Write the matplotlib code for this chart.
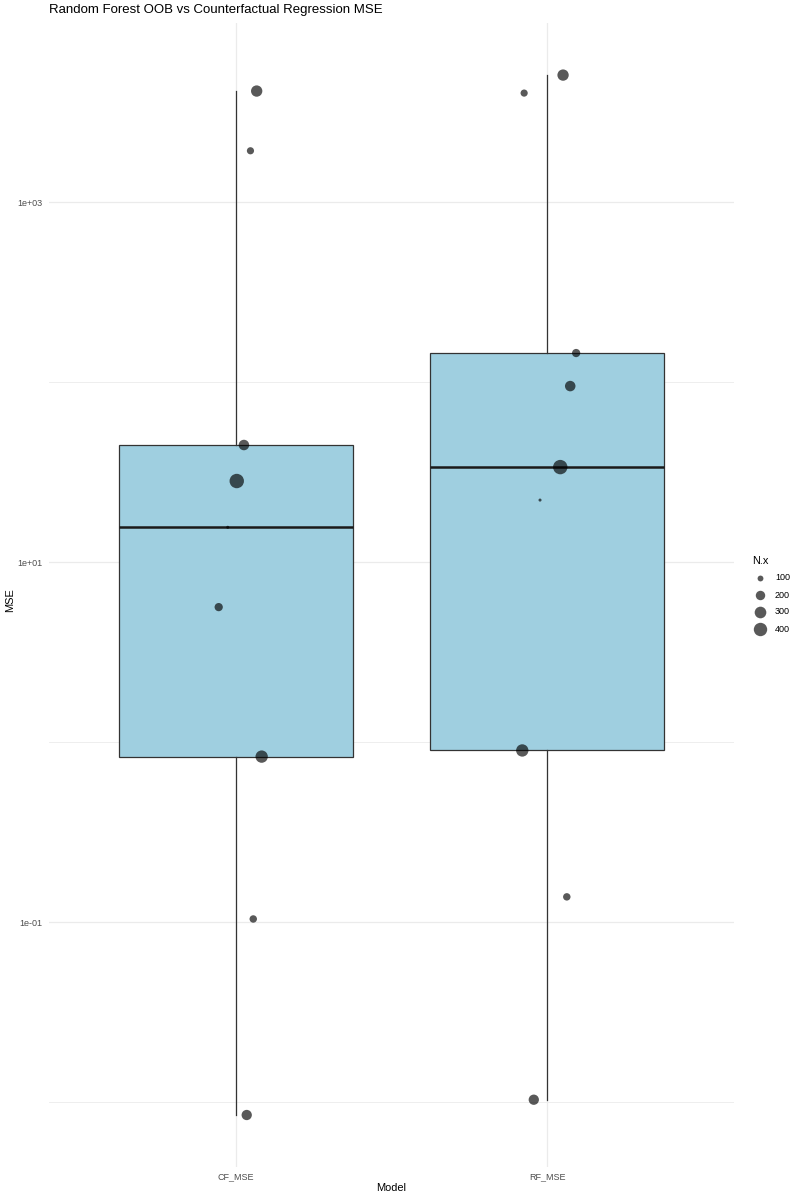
import numpy as np
import matplotlib
matplotlib.use("Agg")
import matplotlib.pyplot as plt
from matplotlib.ticker import FixedLocator, NullFormatter
from matplotlib.lines import Line2D

plt.rcParams["font.family"] = ["Liberation Sans", "DejaVu Sans"]

# ---- data ----
MODELS = ["CF_MSE", "RF_MSE"]
N_X    = [284, 128, 245, 467, 76, 158, 338, 135, 235]
CF_MSE = [4139, 1928, 44.7, 28.2, 15.6, 5.62, 0.830, 0.104, 0.00847]
RF_MSE = [5077, 4033, 95.0, 33.7, 22.1, 145.0, 0.898, 0.138, 0.0103]
CF_JIT = [0.067, 0.047, 0.026, 0.003, -0.026, -0.055, 0.083, 0.056, 0.035]
RF_JIT = [0.051, -0.074, 0.074, 0.042, -0.023, 0.093, -0.080, 0.063, -0.043]
LEG_N  = [100, 200, 300, 400]

BOX_FILL = "#9FCFE0"; EDGE = "#333333"; GRID = "#EBEBEB"

def size_px(n, lo=min(N_X), hi=max(N_X)):
    # ggplot-like area scale: size 1..6
    r = np.clip((np.asarray(n, float) - lo) / (hi - lo), 0, None)
    sz = 1 + 5 * np.sqrt(r)
    return 0.8 * (2.845 * sz + 0.945)

W, H = 800, 1200
fig = plt.figure(figsize=(8, 12), dpi=100)
L, R, T, B = 49, 734, 23, 1167
ax = fig.add_axes([L / W, 1 - B / H, (R - L) / W, (B - T) / H])

bp = ax.boxplot([CF_MSE, RF_MSE], positions=[1, 2], widths=0.75, whis=(0, 100),
                patch_artist=True, showfliers=False, showcaps=False, zorder=2)
for b in bp["boxes"]:
    b.set(facecolor=BOX_FILL, edgecolor=EDGE, lw=0.9)
for w in bp["whiskers"]:
    w.set(color=EDGE, lw=0.9)
for m in bp["medians"]:
    m.set(color="#1A1A1A", lw=1.8)

for pos, vals, jit in [(1, CF_MSE, CF_JIT), (2, RF_MSE, RF_JIT)]:
    d = size_px(N_X)
    ax.scatter(pos + np.array(jit), vals, s=(d * 0.72) ** 2, c="black",
               alpha=0.65, lw=0, zorder=3)

ax.set_yscale("log")
ax.set_ylim(10 ** -2.361, 10 ** 3.995)
ax.set_xlim(0.4, 2.6)
ax.set_xticks([1, 2]); ax.set_xticklabels(MODELS)

# grid
ax.yaxis.set_major_locator(FixedLocator([1e-1, 1e1, 1e3]))
ax.yaxis.set_minor_locator(FixedLocator([1e-2, 1e0, 1e2]))
ax.yaxis.set_minor_formatter(NullFormatter())
ax.set_yticklabels(["1e-01", "1e+01", "1e+03"])
ax.grid(True, which="major", color=GRID, lw=0.9)
ax.grid(True, which="minor", axis="y", color=GRID, lw=0.6)
ax.set_axisbelow(True)
for s in ax.spines.values():
    s.set_visible(False)
ax.tick_params(which="both", length=0)
ax.tick_params(axis="y", labelsize=6.5, labelcolor="#4D4D4D", pad=4.5)
ax.tick_params(axis="x", labelsize=6.5, labelcolor="#4D4D4D", pad=4)

# titles
fig.text(L / W, 1 - 10 / H, "Random Forest OOB vs Counterfactual Regression MSE",
         fontsize=9.5, ha="left", va="center")
fig.text(10 / W, 1 - 600 / H, "MSE", fontsize=7.9, rotation=90, ha="center", va="center")
fig.text((L + R) / 2 / W, 1 - 1188 / H, "Model", fontsize=7.9, ha="center", va="center")

# size legend
fig.text(752 / W, 1 - 561 / H, "N.x", fontsize=7.9, ha="left", va="center")
for i, n in enumerate(LEG_N):
    y = 1 - (578 + i * 17) / H
    d = size_px(n)
    fig.add_artist(Line2D([760 / W], [y], marker="o", ms=d * 0.72, color="black",
                          alpha=0.65, mew=0, ls="none"))
    fig.text(775 / W, y, str(n), fontsize=6.5, ha="left", va="center")

fig.savefig("out.png", dpi=100)
